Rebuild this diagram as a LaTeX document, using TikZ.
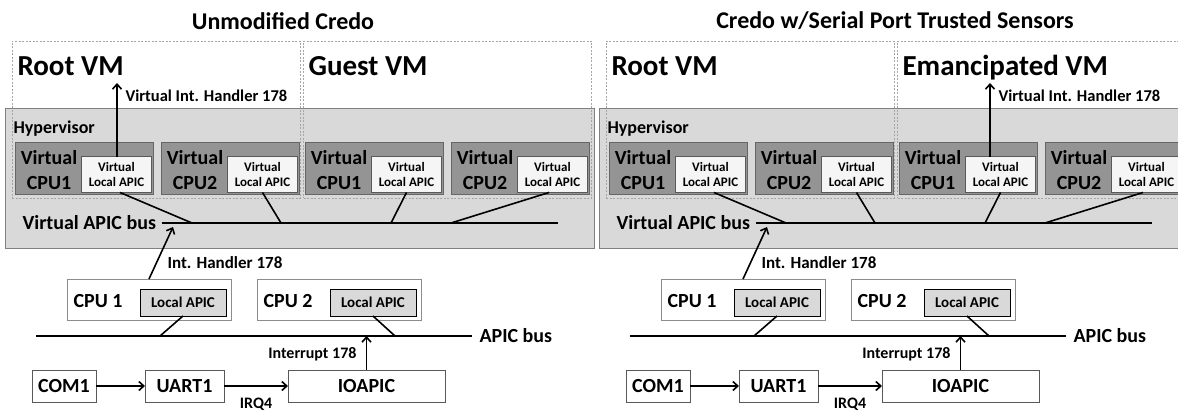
\documentclass[tikz,border=0pt]{standalone}
\usepackage{fontspec}
\setmainfont{Carlito}
\usepackage{tikz}
\usetikzlibrary{arrows.meta, positioning, calc}

\newcommand\fsz[2]{\fontsize{#1}{#2}\selectfont\bfseries}

\begin{document}
\begin{tikzpicture}[
    x=1pt, y=-1pt,
    vmbox/.style={draw=black!35, dash pattern=on 2pt off 1.5pt, line width=0.8pt,
      minimum width=288pt, minimum height=157pt, inner sep=0pt, outer sep=0pt},
    hypbox/.style={draw=black!50, fill=black!15, line width=0.9pt,
      minimum width=589pt, minimum height=140pt, inner sep=0pt, outer sep=0pt},
    vcpu/.style={draw=black!60, fill=black!42, line width=0.8pt,
      minimum width=138pt, minimum height=52pt, inner sep=0pt, outer sep=0pt},
    vlapic/.style={draw=black!65, fill=black!4, line width=0.7pt, align=center,
      minimum width=70pt, minimum height=36pt, inner sep=0pt, outer sep=0pt,
      font=\fsz{13}{15}},
    cpubox/.style={draw=black!45, fill=white, line width=0.8pt,
      minimum width=164pt, minimum height=41pt, inner sep=0pt, outer sep=0pt},
    lapic/.style={draw=black, fill=black!15, line width=0.8pt,
      minimum width=86pt, minimum height=27pt, inner sep=0pt, outer sep=0pt,
      font=\fsz{15}{18}},
    devbox/.style={draw=black!65, fill=white, line width=0.8pt,
      minimum height=32pt, inner sep=0pt, outer sep=0pt, font=\fsz{20}{24}},
    bus/.style={line width=2.2pt},
    conn/.style={line width=1.6pt},
    arrow/.style={line width=1.6pt, -{Straight Barb[length=5pt,width=9pt]}}
]
\useasboundingbox (0,0) rectangle (1178,412);

% titles
\node[font=\fsz{24}{28}] (ttlL) at (283,21) {Unmodified Credo};
\node[font=\fsz{24}{28}] (ttlR) at (895,21) {Credo w/Serial Port Trusted Sensors};

\foreach \p/\dx/\vm/\src/\ax in {L/0/Guest VM/1/117, R/594/Emancipated VM/3/396} {
\begin{scope}[shift={(\dx,0)}]
  % hypervisor and VMs
  \node[hypbox] (\p-hyp) at (299.5,178) {};
  \node[vmbox] (\p-root) at (156,119.5) {};
  \node[vmbox] (\p-guest) at (447.5,119.5) {};
  \node[font=\fsz{29}{33}, anchor=base west] (\p-rootl) at (14,75) {Root VM};
  \node[font=\fsz{29}{33}, anchor=base west] (\p-guestl) at (305,75) {\vm};
  \node[font=\fsz{18}{22}, anchor=base west] (\p-hypl) at (10,133) {Hypervisor};

  % virtual CPUs
  \foreach \i/\cx/\n in {1/84/1, 2/230/2, 3/374/1, 4/520/2} {
    \node[vcpu] (\p-vc\i) at (\cx,168) {};
    \node[vlapic, anchor=south east] (\p-la\i)
      at ([xshift=-1.5pt,yshift=1.5pt]\p-vc\i.south east) {Virtual\\Local APIC};
    \node[font=\fsz{20}{25}, align=center] (\p-vt\i) at (\cx-35,170) {Virtual\\CPU\n};
  }

  % virtual APIC bus
  \node[font=\fsz{20}{24}, anchor=west] (\p-vbl) at (19,223) {Virtual APIC bus};
  \coordinate (\p-vbe) at (558,223);
  \draw[bus] ([xshift=2pt]\p-vbl.east) -- (\p-vbe);
  \foreach \i/\sx/\bx in {1/3.5/192, 2/0/281, 3/0/391, 4/-3.5/451} {
    \coordinate (\p-vb\i) at (\bx,223);
    \draw[conn] ([xshift=\sx pt]\p-la\i.south) -- (\p-vb\i);
  }

  % virtual interrupt up to the VM
  \coordinate (\p-vt) at (\ax,83);
  \draw[arrow] (\p-la\src.north -| \p-vt) -- (\p-vt);
  \node[font=\fsz{16.5}{19}, anchor=base west] (\p-vihl) at (\ax+5,102) {Virtual Int. Handler 178};

  % physical CPUs
  \node[cpubox] (\p-cpu1) at (149,299.5) {};
  \node[cpubox] (\p-cpu2) at (339,299.5) {};
  \node[lapic, anchor=south east] (\p-lap1) at ([xshift=-5pt,yshift=4pt]\p-cpu1.south east) {Local APIC};
  \node[lapic, anchor=south east] (\p-lap2) at ([xshift=-5pt,yshift=4pt]\p-cpu2.south east) {Local APIC};
  \node[font=\fsz{20}{24}, anchor=west] (\p-cpu1l) at ([xshift=3pt,yshift=-2pt]\p-cpu1.west) {CPU 1};
  \node[font=\fsz{20}{24}, anchor=west] (\p-cpu2l) at ([xshift=3pt,yshift=-2pt]\p-cpu2.west) {CPU 2};

  \coordinate (\p-ih) at (173,227);
  \draw[arrow] (\p-cpu1.north) -- (\p-ih);
  \node[font=\fsz{17}{20}, anchor=west] (\p-ihl) at (164,263) {Int. Handler 178};

  % APIC bus
  \coordinate (\p-abs) at (36,336);
  \coordinate (\p-abe) at (472,336);
  \draw[bus] (\p-abs) -- (\p-abe);
  \node[font=\fsz{20}{24}, anchor=west] (\p-abl) at (476,336) {APIC bus};
  \coordinate (\p-ab1) at (160,336);
  \coordinate (\p-ab2) at (395,336);
  \draw[conn] (\p-lap1.south) -- (\p-ab1);
  \draw[conn] (\p-lap2.south) -- (\p-ab2);

  % serial port path
  \node[devbox, minimum width=64pt] (\p-com) at (64,386) {COM1};
  \node[devbox, minimum width=79pt] (\p-uart) at (184.5,386) {UART1};
  \node[devbox, minimum width=157pt] (\p-ioapic) at (366.5,386) {IOAPIC};
  \draw[arrow] (\p-com) -- (\p-uart);
  \draw[arrow] (\p-uart) -- node[midway, yshift=-18pt, font=\fsz{16}{18}, inner sep=1pt] (\p-irq) {IRQ4} (\p-ioapic);
  \draw[arrow] (\p-ioapic.north) -- (\p-ioapic.north |- \p-abe);
  \node[font=\fsz{16}{19}, anchor=east] (\p-intl) at (360,354) {Interrupt 178};
\end{scope}
}
\end{tikzpicture}
\end{document}
